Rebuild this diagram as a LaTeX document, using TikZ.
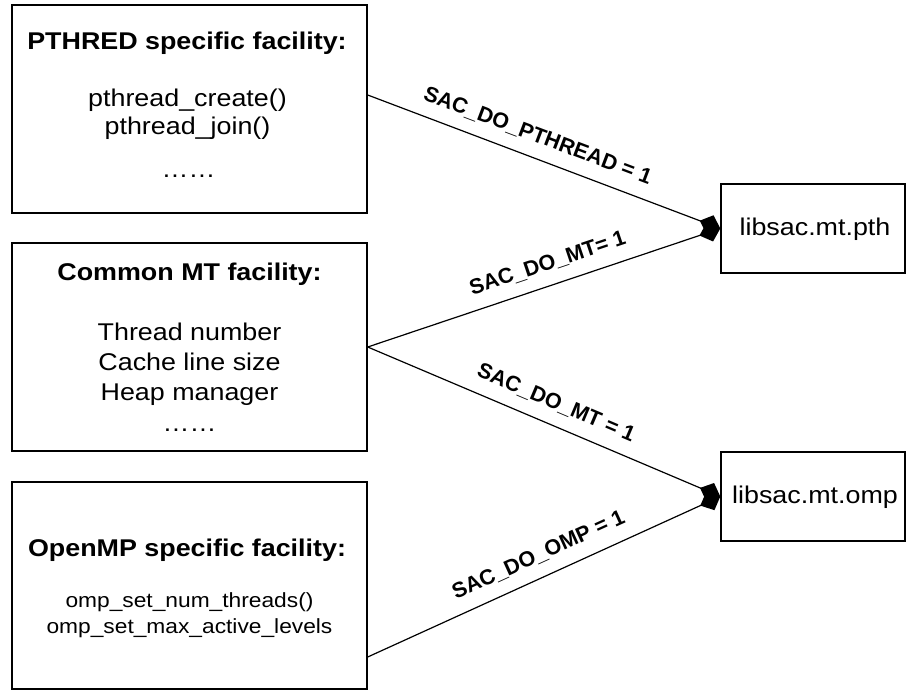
\documentclass[tikz,border=0pt]{standalone}
\usepackage{fontspec}
\setmainfont{Liberation Sans}
\newfontfamily\boxfont[FakeStretch=1.11]{Liberation Sans}
\usetikzlibrary{arrows.meta}
\tikzset{
  box/.style={draw, line width=1.4pt, rectangle, inner sep=0pt},
  txt/.style={anchor=base, inner sep=0pt, font=\boxfont\fontsize{24.2}{26}\selectfont},
  ttl/.style={txt, font=\boxfont\bfseries\fontsize{24.2}{26}\selectfont},
  small/.style={txt, font=\boxfont\fontsize{20.5}{22}\selectfont},
  tipd/.tip={Diamond[length=22pt,width=20pt,line width=0pt]},
  conn/.style={line width=1.2pt, -tipd},
  lab/.style={sloped, anchor=base, yshift=15.5pt, inner sep=0pt, font=\bfseries\fontsize{21.5}{23}\selectfont}
}
\begin{document}
\begin{tikzpicture}[x=1pt,y=-1pt]
\useasboundingbox (0,0) rectangle (906,690);
% boxes
\node[box, minimum width=355pt, minimum height=208pt] (pth) at (189.5,109) {};
\node[box, minimum width=355pt, minimum height=208pt] (cmt) at (189.5,347) {};
\node[box, minimum width=355pt, minimum height=207pt] (omp) at (189.5,585.5) {};
\node[box, minimum width=184pt, minimum height=89pt] (lpth) at (813,228.5) {};
\node[box, minimum width=184pt, minimum height=89pt] (lomp) at (813,496.5) {};
% box texts
\node[ttl] (t1) at (187,50) {PTHRED specific facility:};
\node[txt] (t1a) at (187.5,107) {pthread\_create()};
\node[txt] (t1b) at (187.5,135) {pthread\_join()};
\node[txt] (t1c) at (188.5,178) {……};
\node[ttl] (t2) at (189.5,280) {Common MT facility:};
\node[txt] (t2a) at (189.5,340) {Thread number};
\node[txt] (t2b) at (189.5,370) {Cache line size};
\node[txt] (t2c) at (189.5,400) {Heap manager};
\node[txt] (t2d) at (189.5,431) {……};
\node[ttl] (t3) at (187,556) {OpenMP specific facility:};
\node[small] (t3a) at (189.5,607) {omp\_set\_num\_threads()};
\node[small] (t3b) at (189.5,633) {omp\_set\_max\_active\_levels};
\node[txt] (t4) at (815,236) {libsac.mt.pth};
\node[txt] (t5) at (815,503) {libsac.mt.omp};
% connectors
\draw[conn] ([yshift=14pt]pth.east) -- (lpth.west) node[lab, pos=0.46] {SAC\_DO\_PTHREAD = 1};
\draw[conn] (cmt.east) -- (lpth.west) node[lab, pos=0.53] {SAC\_DO\_MT= 1};
\draw[conn] (cmt.east) -- (lomp.west) node[lab, pos=0.51] {SAC\_DO\_MT = 1};
\draw[conn] ([yshift=-71.5pt]omp.east) -- (lomp.west) node[lab, pos=0.51] {SAC\_DO\_OMP = 1};
\end{tikzpicture}
\end{document}
